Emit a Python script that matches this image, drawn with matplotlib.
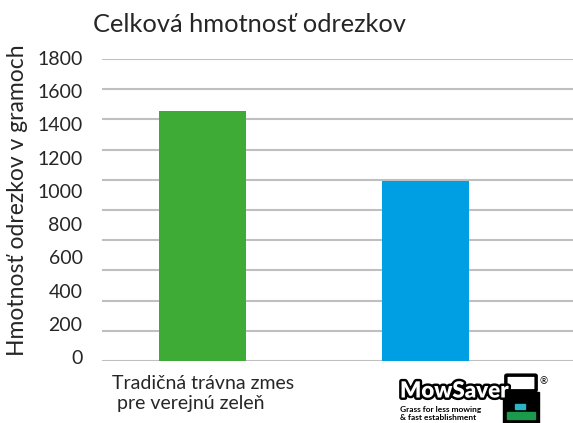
import matplotlib
matplotlib.use("Agg")
import matplotlib.pyplot as plt
import matplotlib.patheffects as pe
from matplotlib.patches import FancyBboxPatch, Rectangle

# data (bars sit on the gridline scale, 0-2000)
categories = ["Tradičná trávna zmes\n pre verejnú zeleň", "MowSaver"]
weights = [1655, 1190]
colors = ["#3dab35", "#009fe3"]
y_ticks = [0, 200, 400, 600, 800, 1000, 1200, 1400, 1600, 1800]
grid_steps = [0, 200, 400, 600, 800, 1000, 1200, 1400, 1600, 1800, 2000]

plt.rcParams['font.family'] = ['Lato', 'DejaVu Sans']
text_color = "#262626"

fig = plt.figure(figsize=(5.73, 4.23), dpi=100)

# gridline axis with the bars (the reference draws 11 gridlines that do not line up with the labels)
ax_grid = fig.add_axes([0.178, 0.1466, 0.822, 0.7139])
x = list(range(len(categories)))
ax_grid.bar(x, weights, width=0.39, color=colors, zorder=3)
ax_grid.set_xlim(-0.45, 1.66)
ax_grid.set_ylim(0, 2000)
ax_grid.set_yticks(grid_steps)
ax_grid.tick_params(left=False, labelleft=False, bottom=False, labelbottom=False)
ax_grid.grid(axis='y', color="#bfbfbf", linewidth=1.5, zorder=0)
ax_grid.set_xticks([])
for s in ax_grid.spines.values():
    s.set_visible(False)

# labelled axis (labels only, slightly offset like in the reference)
ax = fig.add_axes([0.178, 0.1560, 0.822, 0.7069])
ax.patch.set_alpha(0)
ax.set_ylim(0, 1800)
ax.set_yticks(y_ticks)
ax.set_yticklabels([str(v) for v in y_ticks], fontsize=14, color=text_color)
ax.tick_params(axis='y', length=0, pad=14)
ax.set_xticks([])
for s in ax.spines.values():
    s.set_visible(False)

fig.text(18 / 573, 1 - 200 / 423, "Hmotnosť odrezkov v gramoch", rotation=90,
         fontsize=16.5, color=text_color, ha='center', va='center')
fig.text(93 / 573, 1 - 24 / 423, "Celková hmotnosť odrezkov", fontsize=18.3,
         color=text_color, va='center', ha='left')

# first category label
fig.text(203 / 573, 1 - 375 / 423, categories[0], ha='center', va='top', fontsize=14,
         color=text_color, linespacing=1.2, multialignment='left')

# MowSaver logo drawn as text + simple mower shape
fig.text(400 / 573, 1 - 391 / 423, "MowSaver", ha='left', va='center', fontsize=16,
         fontweight='heavy', color='white',
         path_effects=[pe.withStroke(linewidth=3.5, foreground='black')])
fig.text(540 / 573, 1 - 382 / 423, "®", ha='left', va='center', fontsize=7, color='black')
fig.text(400 / 573, 1 - 406 / 423, "Grass for less mowing\n& fast establishment", ha='left',
         va='top', fontsize=6, fontweight='bold', color='black', linespacing=1.15)

W, H = 573, 423
def fig_box(x0, y0, w, h):
    return (x0 / W, 1 - (y0 + h) / H), w / W, h / H

(bx, by), bw, bh = fig_box(507, 376, 28, 14)
fig.patches.append(FancyBboxPatch((bx, by), bw, bh, boxstyle="round,pad=0.002",
                                  fill=False, edgecolor='black', linewidth=2.5,
                                  transform=fig.transFigure, figure=fig))
(bx, by), bw, bh = fig_box(503, 392, 36, 31)
fig.patches.append(Rectangle((bx, by), bw, bh, color='black', transform=fig.transFigure, figure=fig))
(bx, by), bw, bh = fig_box(507, 412, 28, 7)
fig.patches.append(Rectangle((bx, by), bw, bh, color='#1a9a4a', transform=fig.transFigure, figure=fig))
(bx, by), bw, bh = fig_box(515, 404, 10, 5)
fig.patches.append(Rectangle((bx, by), bw, bh, color='#2bb3c6', transform=fig.transFigure, figure=fig))

fig.savefig("out.png", dpi=100)
